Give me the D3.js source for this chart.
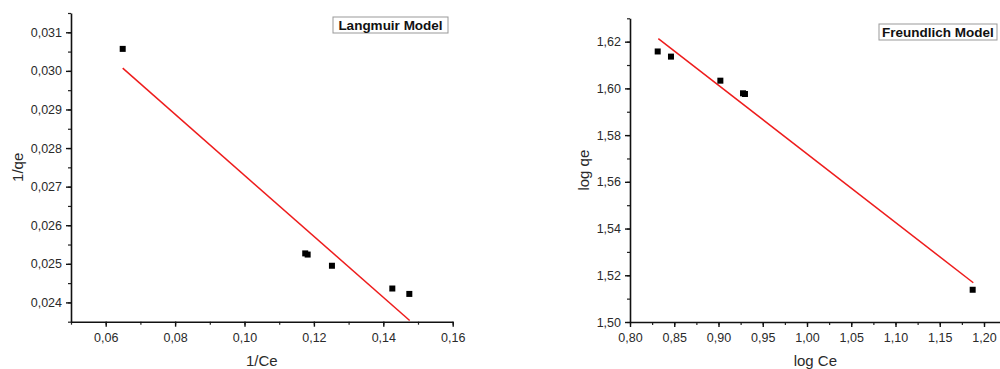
<!DOCTYPE html>
<html>
<head>
<meta charset="utf-8">
<script src="https://cdn.jsdelivr.net/npm/d3@7"></script>
<style>
  body { margin: 0; background: #fff; }
  svg { display: block; font-family: "Liberation Sans", Arial, sans-serif; }
</style>
</head>
<body>
<svg id="chart" width="1000" height="369"></svg>
<script>
// Langmuir data (1/Ce vs 1/qe)
const langX = [0.0649, 0.1175, 0.1182, 0.1252, 0.1426, 0.1475];
const langY = [0.03057, 0.02527, 0.02524, 0.02495, 0.02436, 0.02422];
const langFitX = [0.0649, 0.1476];
const langFitY = [0.03007, 0.02353];
const langXTicks = [0.06, 0.08, 0.10, 0.12, 0.14, 0.16];
const langYTicks = [0.024, 0.025, 0.026, 0.027, 0.028, 0.029, 0.030, 0.031];

// Freundlich data (log Ce vs log qe)
const freuX = [0.8313, 0.8463, 0.9021, 0.9277, 0.9299, 1.1872];
const freuY = [1.6158, 1.6136, 1.6033, 1.5979, 1.5976, 1.5138];
const freuFitX = [0.8320, 1.1879];
const freuFitY = [1.6213, 1.5168];
const freuXTicks = [0.80, 0.85, 0.90, 0.95, 1.00, 1.05, 1.10, 1.15, 1.20];
const freuYTicks = [1.50, 1.52, 1.54, 1.56, 1.58, 1.60, 1.62];

const locale = d3.formatLocale({ decimal: ",", thousands: ".", grouping: [3], currency: ["", ""] });

const svg = d3.select('#chart');

function drawPanel(cfg) {
  const x = d3.scaleLinear().domain(cfg.xDomain).range([cfg.left, cfg.right]);
  const y = d3.scaleLinear().domain(cfg.yDomain).range([cfg.bottom, cfg.top]);
  const g = svg.append('g');

  // minor ticks
  const xMinor = d3.range(cfg.xDomain[0], cfg.xDomain[1] + 1e-9, cfg.xMinorStep);
  const yMinor = d3.range(cfg.yDomain[0], cfg.yDomain[1] + 1e-9, cfg.yMinorStep);
  g.append('g')
    .attr('transform', `translate(0,${cfg.bottom})`)
    .call(d3.axisBottom(x).tickValues(xMinor).tickSize(3).tickFormat('').tickSizeOuter(0))
    .call(a => a.select('.domain').remove())
    .selectAll('line').attr('stroke', '#222').attr('stroke-width', 1.2);
  g.append('g')
    .attr('transform', `translate(${cfg.left},0)`)
    .call(d3.axisLeft(y).tickValues(yMinor).tickSize(3).tickFormat('').tickSizeOuter(0))
    .call(a => a.select('.domain').remove())
    .selectAll('line').attr('stroke', '#222').attr('stroke-width', 1.2);

  // major axes
  const xAxis = g.append('g')
    .attr('transform', `translate(0,${cfg.bottom})`)
    .call(d3.axisBottom(x).tickValues(cfg.xTicks).tickSize(5).tickSizeOuter(0)
      .tickFormat(locale.format(cfg.xFmt)));
  const yAxis = g.append('g')
    .attr('transform', `translate(${cfg.left},0)`)
    .call(d3.axisLeft(y).tickValues(cfg.yTicks).tickSize(5).tickSizeOuter(0)
      .tickFormat(locale.format(cfg.yFmt)));
  [xAxis, yAxis].forEach(a => {
    a.select('.domain').attr('stroke', '#111').attr('stroke-width', 1.6);
    a.selectAll('.tick line').attr('stroke', '#111').attr('stroke-width', 1.4);
    a.selectAll('.tick text').attr('font-size', 12.5).attr('fill', '#2a2a2a')
      .attr('font-family', '"Liberation Sans", Arial, sans-serif');
  });
  xAxis.selectAll('.tick text').attr('dy', '0.95em');
  yAxis.selectAll('.tick text').attr('x', -9);

  // fit line
  const line = d3.line().x(d => x(d[0])).y(d => y(d[1]));
  g.append('path')
    .datum(d3.zip(cfg.fitX, cfg.fitY))
    .attr('d', line)
    .attr('fill', 'none')
    .attr('stroke', '#ee1c1c')
    .attr('stroke-width', 1.5);

  // points
  const s = 6;
  g.selectAll('rect.pt')
    .data(d3.zip(cfg.px, cfg.py))
    .enter().append('rect')
    .attr('class', 'pt')
    .attr('x', d => x(d[0]) - s / 2)
    .attr('y', d => y(d[1]) - s / 2)
    .attr('width', s).attr('height', s)
    .attr('fill', '#000');

  // axis titles
  g.append('text')
    .attr('x', (cfg.left + cfg.right) / 2 + cfg.xTitleShift)
    .attr('y', cfg.bottom + 44)
    .attr('text-anchor', 'middle')
    .attr('font-size', 15).attr('fill', '#2a2a2a')
    .text(cfg.xTitle);
  g.append('text')
    .attr('transform', `translate(${cfg.yTitleX},${(cfg.top + cfg.bottom) / 2}) rotate(-90)`)
    .attr('text-anchor', 'middle')
    .attr('font-size', 15).attr('fill', '#2a2a2a')
    .text(cfg.yTitle);

  // legend box
  const lb = cfg.legend;
  g.append('rect')
    .attr('x', lb.x).attr('y', lb.y).attr('width', lb.w).attr('height', lb.h)
    .attr('fill', '#fff').attr('stroke', '#999').attr('stroke-width', 1);
  g.append('text')
    .attr('x', lb.x + lb.w / 2).attr('y', lb.y + lb.h / 2 + 5)
    .attr('text-anchor', 'middle')
    .attr('font-size', 13.5).attr('font-weight', 'bold').attr('fill', '#111')
    .text(lb.text);
}

drawPanel({
  left: 71, right: 452.7, top: 13, bottom: 321.7,
  xDomain: [0.05, 0.16], yDomain: [0.0235, 0.0315],
  xTicks: langXTicks, yTicks: langYTicks,
  xMinorStep: 0.01, yMinorStep: 0.0005,
  xFmt: '.2f', yFmt: '.3f',
  px: langX, py: langY, fitX: langFitX, fitY: langFitY,
  xTitle: '1/Ce', yTitle: '1/qe', xTitleShift: 0, yTitleX: 23,
  legend: { x: 333, y: 17, w: 115, h: 16, text: 'Langmuir Model' }
});

drawPanel({
  left: 630, right: 1001.7, top: 18.3, bottom: 322,
  xDomain: [0.80, 1.22], yDomain: [1.50, 1.63],
  xTicks: freuXTicks, yTicks: freuYTicks,
  xMinorStep: 0.025, yMinorStep: 0.01,
  xFmt: '.2f', yFmt: '.2f',
  px: freuX, py: freuY, fitX: freuFitX, fitY: freuFitY,
  xTitle: 'log Ce', yTitle: 'log qe', xTitleShift: -0.5, yTitleX: 589,
  legend: { x: 879, y: 24, w: 118, h: 16, text: 'Freundlich Model' }
});
</script>
</body>
</html>
